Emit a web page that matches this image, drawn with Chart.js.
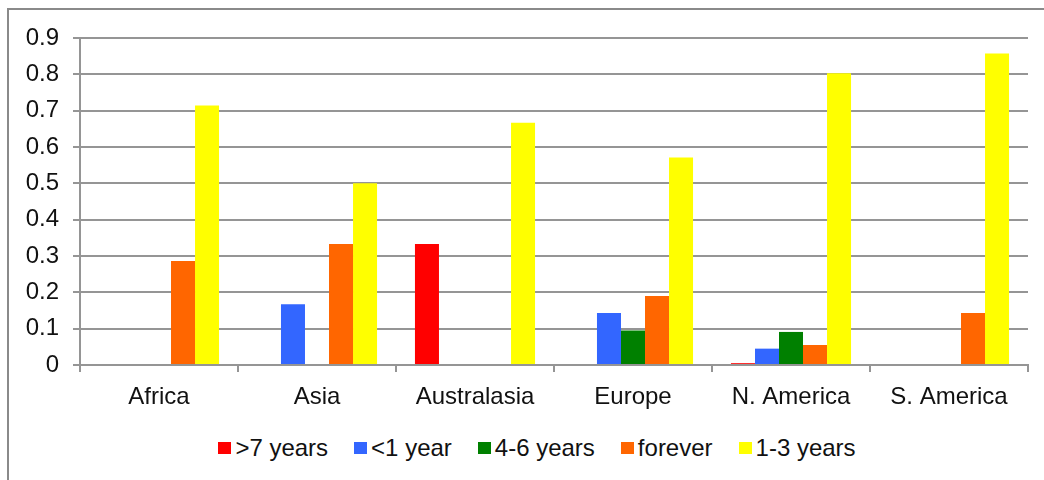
<!DOCTYPE html>
<html lang="en">

<head>
    <meta charset="UTF-8">
    <title>Time by region</title>
    <script src="https://cdn.jsdelivr.net/npm/chart.js"></script>
    <style>
        body { margin: 0; background: #fff; overflow: hidden; }
        .wrap { position: relative; width: 1044px; height: 480px; overflow: hidden; }
        .frame { position: absolute; left: 7px; top: 8px; width: 1100px; height: 600px; border: 2px solid #8a8a8a; }
        #chart { position: absolute; left: 0; top: 0; }
        .legend { position: absolute; left: 0; top: 434px; width: 1074px; display: flex; justify-content: center;
            font-family: "Liberation Sans", Arial, sans-serif; font-size: 24px; color: #111; line-height: 28px; }
        .legend span.item { display: flex; align-items: center; margin: 0 13px; }
        .legend i { display: inline-block; width: 13px; height: 12px; margin-right: 4px; }
    </style>
</head>

<body>
    <div class="wrap">
        <div class="frame"></div>
        <canvas id="chart" width="1044" height="420"></canvas>
        <div class="legend" id="legend"></div>
    </div>

    <script>
        const regions = ['Africa', 'Asia', 'Australasia', 'Europe', 'N. America', 'S. America'];

        const over7 = [0, 0, 0.333, 0, 0.005, 0];
        const under1 = [0, 0.167, 0, 0.143, 0.045, 0];
        const years4to6 = [0, 0, 0, 0.095, 0.091, 0];
        const forever = [0.286, 0.333, 0, 0.19, 0.055, 0.143];
        const years1to3 = [0.714, 0.5, 0.667, 0.571, 0.803, 0.857];

        const seriesNames = ['>7 years', '<1 year', '4-6 years', 'forever', '1-3 years'];
        const seriesColors = ['#ff0000', '#3366ff', '#008000', '#ff6600', '#ffff00'];
        const seriesData = [over7, under1, years4to6, forever, years1to3];

        const font = { family: '"Liberation Sans", Arial, sans-serif', size: 24 };
        const gridColor = '#959595';

        const chart = new Chart(document.getElementById('chart'), {
            type: 'bar',
            data: {
                labels: regions,
                datasets: seriesNames.map((name, i) => ({
                    label: name,
                    data: seriesData[i],
                    backgroundColor: seriesColors[i],
                    borderWidth: 0,
                    categoryPercentage: 0.76,
                    barPercentage: 1
                }))
            },
            options: {
                responsive: false,
                animation: false,
                layout: { padding: { left: 0, right: 16, top: 38, bottom: 0 } },
                plugins: { legend: { display: false }, tooltip: { enabled: false } },
                scales: {
                    x: {
                        afterFit: s => { s.height = 55; },
                        grid: { drawOnChartArea: false, color: gridColor, lineWidth: 2, tickLength: 7, offset: true },
                        border: { color: gridColor, width: 2 },
                        ticks: { font: font, color: '#111', padding: 11 }
                    },
                    y: {
                        min: 0,
                        max: 0.9,
                        afterFit: s => { s.width = 80; },
                        grid: { color: gridColor, lineWidth: 2, tickLength: 7 },
                        border: { color: gridColor, width: 2 },
                        ticks: {
                            stepSize: 0.1,
                            font: font,
                            color: '#111',
                            padding: 14,
                            callback: v => v === 0 ? '0' : v.toFixed(1)
                        }
                    }
                }
            }
        });

        // html legend so the gaps match the original
        const legend = document.getElementById('legend');
        chart.data.datasets.forEach(ds => {
            const item = document.createElement('span');
            item.className = 'item';
            const box = document.createElement('i');
            box.style.background = ds.backgroundColor;
            item.appendChild(box);
            item.appendChild(document.createTextNode(ds.label));
            legend.appendChild(item);
        });
    </script>
</body>

</html>
